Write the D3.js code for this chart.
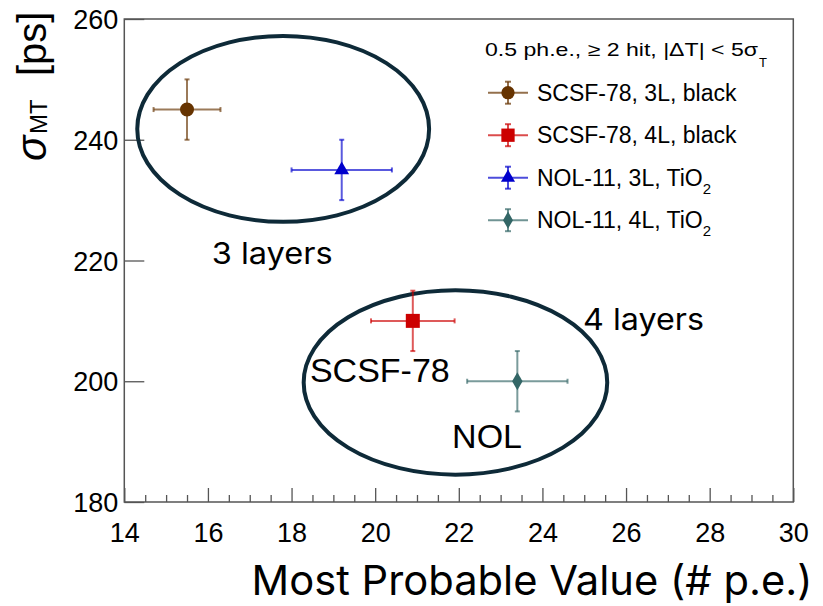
<!DOCTYPE html>
<html><head><meta charset="utf-8">
<script src="https://cdn.jsdelivr.net/npm/d3@7"></script>
<style>body{margin:0;background:#fff}svg{display:block}</style>
</head><body>
<svg id="c" width="823" height="606"></svg>
<script>
// ---- data ----
const seriesMain = ["SCSF-78, 3L, black", "SCSF-78, 4L, black", "NOL-11, 3L, TiO", "NOL-11, 4L, TiO"];
const seriesSub  = ["", "", "2", "2"];
const mpv        = [15.5, 20.9, 19.2, 23.4];
const mpvErr     = [0.8, 1.0, 1.2, 1.2];
const sigmaMT    = [245, 210, 235, 200];
const sigmaErr   = [5, 5, 5, 5];
const colors     = ["#663300", "#cc0000", "#0000cc", "#336666"];
const shapes     = ["circle", "square", "triangle", "diamond"];
const xTicks     = [14, 16, 18, 20, 22, 24, 26, 28, 30];
const yTicks     = [180, 200, 220, 240, 260];
// annotation groups (data units)
const groupCx    = [17.8, 21.92];
const groupCy    = [241.8, 199.8];
const groupRx    = [3.49, 3.63];
const groupRy    = [15.4, 15.27];
const noteText   = ["3 layers", "4 layers", "SCSF-78", "NOL"];
const noteX      = [16.09, 24.97, 18.44, 21.84];
const noteY      = [219.4, 208.5, 199.9, 188.9];

const svg = d3.select("#c");
const L = 124.3, R = 793.3, T = 19, B = 502;
const x = d3.scaleLinear().domain([14, 30]).range([L, R]);
const y = d3.scaleLinear().domain([180, 260]).range([B, T]);
const frameCol = "#555";

// ticks via axes
const xMinor = d3.range(14, 30.001, 0.5).filter(v => v % 2 !== 0);
const gxm = svg.append("g").attr("transform", `translate(0,${B})`)
  .call(d3.axisBottom(x).tickValues(xMinor).tickSize(-7).tickFormat(""));
const gx = svg.append("g").attr("transform", `translate(0,${B})`)
  .call(d3.axisBottom(x).tickValues(xTicks).tickSize(-14).tickFormat(d3.format("d")));
const gy = svg.append("g").attr("transform", `translate(${L},0)`)
  .call(d3.axisLeft(y).tickValues(yTicks).tickSize(-20).tickFormat(d3.format("d")));
[gxm, gx, gy].forEach(g => {
  g.select(".domain").remove();
  g.selectAll(".tick line").attr("stroke", frameCol).attr("stroke-width", 1.3);
});
gx.selectAll(".tick text").attr("y", 40).attr("dy", null)
  .attr("font-family", "'Liberation Sans', Arial, sans-serif").attr("font-size", 27).attr("fill", "#000");
gy.selectAll(".tick text").attr("x", -6).attr("dy", null).attr("y", 9.5)
  .attr("font-family", "'Liberation Sans', Arial, sans-serif").attr("font-size", 27).attr("fill", "#000");

// frame
svg.append("rect").attr("x", L).attr("y", T).attr("width", R - L).attr("height", B - T)
  .attr("fill", "none").attr("stroke", frameCol).attr("stroke-width", 1.5);

// symbol generator
function symPath(shape, scale) {
  const s = scale || 1;
  const types = {
    circle: [d3.symbolCircle, 154],
    square: [d3.symbolSquare, 196],
    triangle: [d3.symbolTriangle, 95],
    diamond: [d3.symbolDiamond, 95]
  };
  const t = types[shape];
  return d3.symbol().type(t[0]).size(t[1] * s * s)();
}

// ellipses
const ell = svg.append("g");
groupCx.forEach((cx, i) => {
  ell.append("ellipse")
    .attr("cx", x(cx)).attr("cy", y(groupCy[i]))
    .attr("rx", x(cx + groupRx[i]) - x(cx))
    .attr("ry", y(groupCy[i] - groupRy[i]) - y(groupCy[i]))
    .attr("fill", "none").attr("stroke", "#0e2a38").attr("stroke-width", 4);
});

// data points with error bars
const pts = svg.append("g");
mpv.forEach((v, i) => {
  const cx = x(v), cy = y(sigmaMT[i]);
  const g = pts.append("g");
  const x0 = x(v - mpvErr[i]), x1 = x(v + mpvErr[i]);
  const y0 = y(sigmaMT[i] - sigmaErr[i]), y1 = y(sigmaMT[i] + sigmaErr[i]);
  const eb = g.append("g").attr("stroke", colors[i]).attr("stroke-opacity", 0.65).attr("stroke-width", 2);
  eb.append("line").attr("x1", x0).attr("x2", x1).attr("y1", cy).attr("y2", cy);
  eb.append("line").attr("x1", cx).attr("x2", cx).attr("y1", y0).attr("y2", y1);
  eb.append("line").attr("x1", x0).attr("x2", x0).attr("y1", cy - 2.5).attr("y2", cy + 2.5);
  eb.append("line").attr("x1", x1).attr("x2", x1).attr("y1", cy - 2.5).attr("y2", cy + 2.5);
  eb.append("line").attr("x1", cx - 2.5).attr("x2", cx + 2.5).attr("y1", y0).attr("y2", y0);
  eb.append("line").attr("x1", cx - 2.5).attr("x2", cx + 2.5).attr("y1", y1).attr("y2", y1);
  g.append("path").attr("d", symPath(shapes[i])).attr("transform", `translate(${cx},${cy})`)
    .attr("fill", colors[i]);
});

// legend
const lg = svg.append("g").attr("font-family", "'Liberation Sans', Arial, sans-serif");
lg.append("text").attr("x", 485).attr("y", 56).attr("font-size", 18.5)
  .attr("textLength", 273).attr("lengthAdjust", "spacingAndGlyphs")
  .text("0.5 ph.e., \u2265 2 hit, |\u0394T| < 5\u03c3");
lg.append("text").attr("x", 759).attr("y", 67).attr("font-size", 13).text("T");
seriesMain.forEach((lab, i) => {
  const cy = 92.7 + i * 42.5, mx = 508;
  const eb = lg.append("g").attr("stroke", colors[i]).attr("stroke-opacity", 0.7).attr("stroke-width", 2);
  eb.append("line").attr("x1", 488).attr("x2", 528).attr("y1", cy).attr("y2", cy);
  eb.append("line").attr("x1", mx).attr("x2", mx).attr("y1", cy - 11).attr("y2", cy + 11);
  eb.append("line").attr("x1", mx - 3).attr("x2", mx + 3).attr("y1", cy - 11).attr("y2", cy - 11);
  eb.append("line").attr("x1", mx - 3).attr("x2", mx + 3).attr("y1", cy + 11).attr("y2", cy + 11);
  lg.append("path").attr("d", symPath(shapes[i], 0.95)).attr("transform", `translate(${mx},${cy})`)
    .attr("fill", colors[i]);
  const t = lg.append("text").attr("x", 537).attr("y", cy + 8).attr("font-size", 23).attr("fill", "#000");
  t.append("tspan").text(lab);
  if (seriesSub[i]) t.append("tspan").attr("font-size", 15).attr("dy", 8).text(seriesSub[i]);
});

// annotations
noteText.forEach((txt, i) => {
  const aptos = i < 2;
  const t = svg.append("text").attr("x", x(noteX[i])).attr("y", y(noteY[i])).attr("fill", "#000")
    .attr("font-family", aptos ? "Inter, 'Open Sans', sans-serif" : "'Liberation Sans', Arial, sans-serif")
    .attr("font-size", aptos ? 30 : 34).text(txt);
  if (aptos) t.attr("textLength", 121).attr("lengthAdjust", "spacingAndGlyphs");
});

// x axis title
svg.append("text").attr("x", 251.5).attr("y", 595).attr("font-family", "Inter, 'Open Sans', sans-serif")
  .attr("font-size", 41).attr("fill", "#000")
  .attr("textLength", 561).attr("lengthAdjust", "spacingAndGlyphs")
  .text("Most Probable Value (# p.e.)");

// y axis title
const yt = svg.append("g").attr("transform", "translate(46,0) rotate(-90)")
  .attr("font-family", "'Liberation Sans', Arial, sans-serif").attr("fill", "#000");
yt.append("text").attr("x", -161).attr("y", 0).attr("font-size", 42).attr("font-style", "italic").text("\u03c3");
yt.append("text").attr("x", -134).attr("y", 1).attr("font-size", 24).text("MT");
yt.append("text").attr("x", -76).attr("y", 0).attr("font-size", 40).text("[ps]");
</script>
</body></html>
